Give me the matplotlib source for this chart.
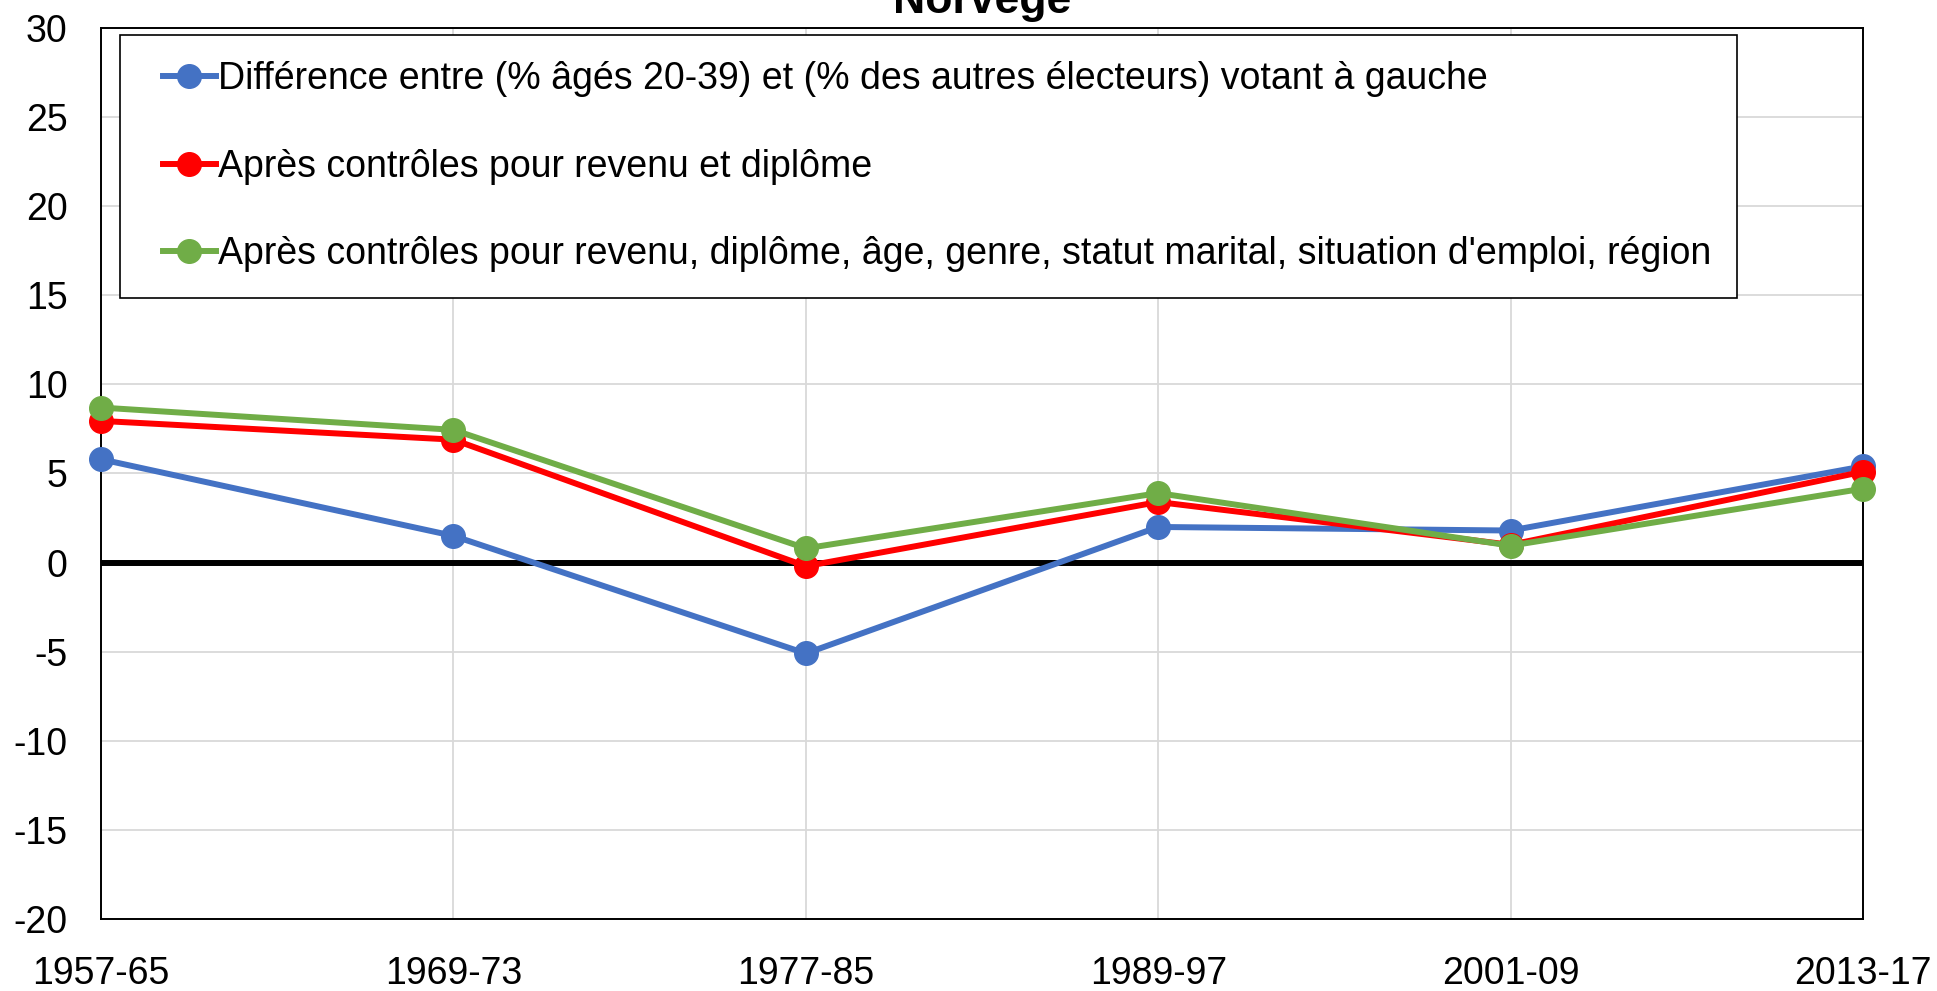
import matplotlib
matplotlib.use('Agg')
from matplotlib import pyplot as plt
from matplotlib.legend_handler import HandlerLine2D

# data
periods = ['1957-65', '1969-73', '1977-85', '1989-97', '2001-09', '2013-17']
diffRaw = [5.8, 1.5, -5.1, 2.0, 1.8, 5.4]
diffIncEdu = [7.95, 6.9, -0.2, 3.4, 1.0, 5.1]
diffAllCtrl = [8.7, 7.45, 0.8, 3.9, 0.95, 4.15]

labels = ["Différence entre (% âgés 20-39) et (% des autres électeurs) votant à gauche",
          "Après contrôles pour revenu et diplôme",
          "Après contrôles pour revenu, diplôme, âge, genre, statut marital, situation d'emploi, région"]
colors = ['#4472C4', '#FF0000', '#70AD47']

plt.rcParams['font.family'] = ['Liberation Sans', 'DejaVu Sans']
plt.rcParams['font.size'] = 27
plt.rcParams['axes.unicode_minus'] = False

fig = plt.figure(figsize=(19.37, 9.91), dpi=100)
ax = fig.add_axes([101/1937, 1 - 919/991, (1863-101)/1937, (919-28)/991])

xs = list(range(len(periods)))
lines = []
for vals, lab, col in zip([diffRaw, diffIncEdu, diffAllCtrl], labels, colors):
    ln, = ax.plot(xs, vals, color=col, lw=4.3, marker='o', ms=17, label=lab, zorder=3, clip_on=False)
    lines.append(ln)

# zero line
ax.axhline(0, color='black', lw=4.3, zorder=2)

ax.set_xlim(0, len(periods) - 1)
ax.set_ylim(-20, 30)
ax.set_yticks(range(-20, 31, 5))
ax.set_xticks(xs)
ax.set_xticklabels(periods)
ax.tick_params(axis='both', length=0, labelsize=27)
ax.tick_params(axis='x', pad=27)
ax.tick_params(axis='y', pad=24)
ax.grid(color='#D9D9D9', lw=1.3, zorder=0)
for sp in ax.spines.values():
    sp.set_color('black')
    sp.set_linewidth(1.4)

leg = ax.legend(loc='upper left', bbox_to_anchor=((120-101)/(1863-101), 1 - (35-28)/(919-28)),
                frameon=True, fancybox=False, edgecolor='black', framealpha=1,
                fontsize=27, handlelength=1.85, handletextpad=0.05,
                labelspacing=1.37, borderpad=0.7, borderaxespad=0,
                handler_map={ln: HandlerLine2D(xpad=0.45) for ln in lines})
leg.get_frame().set_linewidth(1.2)

# title is partly cut off at the top, as in the original
fig.text((101+1863)/2/1937, 1 - 13/991, 'Norvège', ha='center', va='baseline',
         fontsize=32, fontweight='bold')

fig.savefig('out.png', dpi=100)
